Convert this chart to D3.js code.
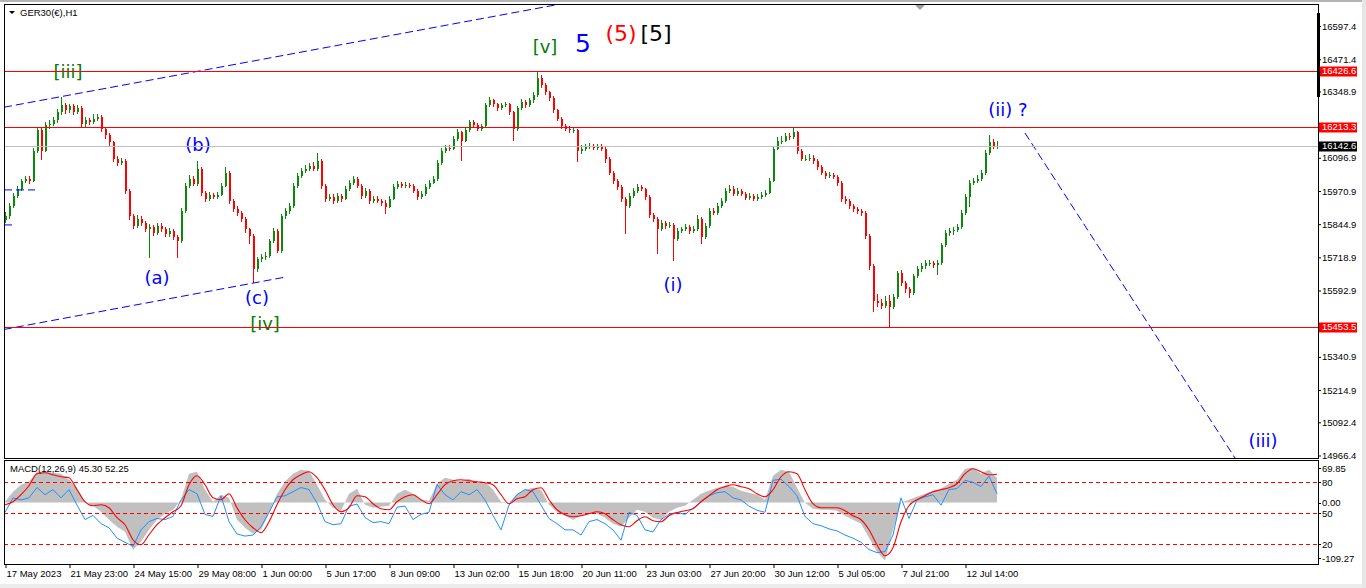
<!DOCTYPE html>
<html lang="en">
<head>
<meta charset="utf-8">
<title>GER30 H1</title>
<script src="https://cdnjs.cloudflare.com/ajax/libs/d3/7.8.5/d3.min.js"></script>
<style>
  body { margin: 0; background: #fff; overflow: hidden; }
  svg { display: block; }
  text { font-family: "Liberation Sans", Arial, sans-serif; }
</style>
</head>
<body>
<script>
// price bars, one every 4 px, open = previous close
var firstOpen = 15860;
var closes = [15876,15914,15952,15979,16010,16017,16010,16124,16201,16124,
  16220,16227,16239,16269,16296,16277,16292,16269,16285,16224,
  16239,16231,16246,16250,16208,16182,16155,16094,16078,16086,
  15972,15876,15838,15865,15849,15826,15834,15811,15838,15826,
  15807,15819,15796,15781,15895,15991,16017,15998,16056,15964,
  15941,15956,15949,15956,15991,16040,15933,15903,15888,15865,
  15826,15800,15674,15712,15720,15723,15781,15819,15742,15876,
  15895,15914,15991,16029,16048,16056,16067,16056,16086,15991,
  15941,15949,15933,15952,15941,15979,16002,16017,15991,15952,
  15972,15933,15941,15933,15926,15911,15941,15987,15998,15991,
  15994,15991,15972,15949,15960,15987,16002,16017,16078,16124,
  16136,16132,16170,16193,16162,16201,16231,16220,16208,16216,
  16296,16315,16300,16285,16296,16300,16269,16208,16285,16308,
  16296,16315,16334,16399,16372,16346,16323,16277,16246,16216,
  16208,16201,16201,16124,16132,16140,16143,16136,16140,16132,
  16094,16040,16010,15987,15941,15914,15952,15972,15987,15979,
  15949,15880,15865,15826,15849,15838,15842,15788,15819,15826,
  15834,15819,15826,15865,15796,15838,15895,15888,15914,15933,
  15972,15979,15960,15972,15960,15945,15952,15941,15949,15956,
  15964,16010,16132,16162,16162,16178,16174,16193,16124,16094,
  16094,16098,16086,16063,16040,16029,16033,16025,16002,15941,
  15933,15914,15903,15895,15888,15800,15685,15552,15544,15536,
  15552,15532,15567,15658,15620,15597,15582,15647,15674,15685,
  15697,15697,15689,15697,15765,15811,15819,15823,15834,15888,
  15949,16002,16010,16017,16040,16117,16155,16143,16143];
var highs = [15890,15925,15962,15990,16018,16026,16028,16135,16215,16210,
  16232,16240,16252,16282,16326,16305,16303,16300,16296,16292,
  16250,16248,16262,16262,16258,16215,16192,16162,16105,16098,
  16092,15980,15885,15880,15875,15858,15845,15842,15850,15848,
  15835,15830,15826,15805,15905,16002,16030,16028,16086,16062,
  15972,15966,15964,15968,16002,16063,16046,15940,15912,15895,
  15872,15832,15806,15722,15732,15740,15790,15830,15826,15885,
  15905,15926,16000,16040,16060,16068,16078,16080,16117,16092,
  15998,15960,15958,15962,15960,15990,16014,16026,16024,15998,
  15984,15980,15952,15950,15942,15935,15950,15996,16008,16006,
  16004,16003,15998,15980,15970,15996,16012,16028,16088,16134,
  16146,16144,16180,16205,16200,16212,16242,16240,16228,16226,
  16306,16326,16322,16306,16305,16310,16306,16275,16295,16320,
  16316,16325,16346,16427,16410,16380,16352,16330,16284,16252,
  16224,16216,16212,16208,16144,16150,16152,16150,16150,16148,
  16138,16100,16046,16018,15992,15948,15962,15982,15996,15994,
  15984,15955,15888,15872,15860,15858,15852,15850,15830,15836,
  15845,15842,15838,15880,15872,15848,15905,15906,15925,15944,
  15982,15992,15988,15984,15980,15968,15962,15960,15958,15966,
  15975,16020,16142,16175,16178,16190,16190,16213,16200,16130,
  16106,16110,16106,16092,16070,16046,16044,16040,16032,16008,
  15950,15940,15920,15910,15902,15894,15806,15692,15580,15560,
  15572,15575,15580,15668,15672,15628,15605,15656,15686,15698,
  15708,15708,15705,15710,15775,15822,15830,15834,15846,15898,
  15960,16012,16022,16030,16052,16128,16185,16168,16160];
var lows = [15848,15866,15905,15944,15970,16000,15998,16004,16115,16090,
  16118,16208,16218,16230,16260,16265,16268,16258,16262,16212,
  16215,16222,16225,16238,16196,16170,16142,16082,16066,16070,
  15960,15862,15825,15830,15838,15815,15716,15800,15803,15815,
  15795,15798,15784,15716,15775,15888,15982,15988,15990,15952,
  15930,15934,15940,15942,15950,15985,15922,15892,15876,15852,
  15812,15770,15620,15662,15702,15708,15715,15772,15735,15736,
  15866,15885,15905,15982,16020,16040,16048,16046,16048,15980,
  15930,15932,15922,15925,15930,15935,15972,15995,15982,15940,
  15945,15922,15926,15924,15915,15884,15905,15935,15980,15984,
  15984,15982,15962,15938,15942,15952,15980,15996,16010,16070,
  16116,16122,16125,16162,16086,16155,16195,16210,16198,16200,
  16210,16288,16290,16275,16278,16288,16258,16162,16200,16278,
  16285,16288,16306,16326,16362,16336,16312,16266,16235,16205,
  16198,16192,16190,16080,16112,16124,16130,16125,16128,16122,
  16078,16030,15998,15976,15930,15807,15905,15944,15964,15970,
  15938,15868,15854,15731,15818,15828,15830,15704,15780,15810,
  15818,15808,15810,15818,15769,15788,15830,15878,15880,15905,
  15926,15964,15950,15952,15950,15936,15938,15932,15933,15940,
  15948,15958,16004,16125,16150,16155,16165,16168,16112,16084,
  16084,16086,16075,16052,16030,16018,16020,16015,15990,15930,
  15922,15902,15892,15884,15876,15788,15672,15513,15532,15524,
  15528,15454,15522,15560,15610,15585,15563,15575,15640,15665,
  15676,15686,15678,15650,15690,15758,15800,15805,15815,15828,
  15880,15910,15992,16000,16008,16032,16108,16132,16130];

// indicator window, one sample every second bar
var macdMain = [1.5,19.9,32.9,38.4,56.9,56.9,55.0,53.2,42.1,27.3,
  1.5,-5.9,-17.0,-31.8,-44.7,-53.9,-87.2,-72.4,-50.2,-31.8,
  -20.7,-13.3,5.2,53.2,56.9,23.6,1.5,14.4,8.9,-31.8,
  -46.5,-57.6,-50.2,-20.7,16.3,38.4,53.2,60.6,58.7,32.9,
  5.2,-9.6,-15.1,16.3,25.5,-4.1,-9.6,-7.8,-5.9,16.3,
  23.6,16.3,5.2,3.3,34.7,45.8,42.1,40.3,44.0,36.6,
  38.4,23.6,1.5,-0.4,16.3,23.6,27.3,23.6,-4.1,-17.0,
  -24.4,-31.8,-24.4,-20.7,-20.7,-28.1,-39.2,-44.7,-28.1,-13.3,
  -17.0,-28.1,-31.8,-17.0,-9.6,-5.9,5.2,16.3,21.8,27.3,
  31.0,29.2,21.8,18.1,14.4,5.2,49.5,60.6,56.9,27.3,
  -0.4,-11.4,-13.3,-13.3,-15.1,-24.4,-31.8,-39.2,-65.0,-90.9,
  -107.0,-50.2,-0.4,5.2,10.7,16.3,21.8,25.5,34.7,42.1,
  62.4,64.3,53.2,60.6,45.3];
var macdSignal = [-4.1,1.5,14.4,31.0,53.2,55.0,51.3,47.6,45.8,23.6,
  1.5,-5.9,-4.1,-9.6,-28.1,-41.0,-68.7,-77.9,-59.5,-41.0,
  -28.1,-17.0,-5.9,32.9,49.5,32.9,8.9,5.2,16.3,-9.6,
  -31.8,-46.5,-55.6,-35.5,-4.1,23.6,42.1,51.3,56.9,45.8,
  23.6,-4.1,-17.0,-9.6,12.6,10.7,-2.2,-11.4,-13.3,1.5,
  10.7,14.4,5.2,-2.2,14.4,32.9,40.3,42.1,40.3,38.4,
  36.6,32.9,14.4,-2.2,7.0,10.7,23.6,27.3,5.2,-13.3,
  -22.5,-26.2,-24.4,-20.7,-17.0,-20.7,-31.8,-41.0,-44.7,-33.6,
  -26.2,-33.6,-35.5,-24.4,-18.8,-15.1,-11.4,1.5,12.6,23.6,
  29.2,32.9,29.2,25.5,16.3,10.7,23.6,47.6,56.9,53.2,
  23.6,-2.2,-9.6,-9.6,-9.6,-15.1,-24.4,-31.8,-50.2,-77.9,
  -98.2,-83.5,-35.5,-5.9,5.2,12.6,19.9,23.6,27.3,34.7,
  53.2,62.4,56.9,51.3,52.25];
var oscBlue = [51,65,63,65,75,68,73,65,73,58,
  44,48,40,36,26,22,18,34,42,45,
  44,47,63,73,69,49,47,67,42,30,
  28,29,37,51,66,67,71,75,73,60,
  42,39,40,57,59,46,41,42,40,56,
  57,44,49,51,78,68,63,71,68,73,
  63,48,34,58,68,73,71,58,45,40,
  34,34,29,42,44,40,34,24,51,48,
  34,32,44,49,51,49,55,61,67,70,
  71,65,63,57,53,51,82,83,76,67,
  47,40,38,35,33,29,26,22,15,12,
  13,29,65,45,63,66,68,58,73,74,
  82,80,76,86,69];
var oscLevels = [80, 50, 20];

var dateLabels = ["17 May 2023","21 May 23:00","24 May 15:00","29 May 08:00","1 Jun 00:00",
  "5 Jun 17:00","8 Jun 09:00","13 Jun 02:00","15 Jun 18:00","20 Jun 11:00","23 Jun 03:00",
  "27 Jun 20:00","30 Jun 12:00","5 Jul 05:00","7 Jul 21:00","12 Jul 14:00"];
var priceTicks = [16597.4,16471.4,16348.9,16096.9,15970.9,15844.9,15718.9,15592.9,
  15340.9,15214.9,15092.4,14966.4];
var levelLines = [16426.6, 16213.3, 15453.5];
var bidPrice = 16142.6;

// drawn trend lines [bar, price]
var upperChannel = [[-0.25, 16289], [140, 16684]];
var lowerChannel = [[-0.25, 15445], [69.75, 15643]];
var projection = [[255, 16191], [307.5, 14957]];
var stubA = [[-0.25, 15975], [7.5, 15975]];
var stubB = [[-0.25, 15842], [2.5, 15842]];

// wave labels [text, bar, price, colour, size]
var waves = [
  ["[iii]", 15.75, 16426, "#008000", 18],
  ["(b)", 48.25, 16146, "#0000ff", 18],
  ["(a)", 38, 15644, "#0000ff", 18],
  ["(c)", 63, 15565, "#0000ff", 18],
  ["[iv]", 65, 15466, "#008000", 18],
  ["[v]", 135, 16518, "#008000", 18],
  ["5", 144.5, 16533, "#0000ff", 25],
  ["(5)", 154, 16571, "#ff0000", 22],
  ["[5]", 162.75, 16571, "#000000", 22],
  ["(i)", 167, 15614, "#0000ff", 18],
  ["(ii) ?", 250.75, 16279, "#0000ff", 18],
  ["(iii)", 314.5, 15022, "#0000ff", 18]
];

var W = 1366, H = 588;
var L = 4, R = 1318, T = 4, B = 458, ST = 460, SB = 564;
var upCol = "#0a8a0a", dnCol = "#ff0000";

var svg = d3.select("body").append("svg").attr("width", W).attr("height", H);

var x = d3.scaleLinear().domain([0, 1]).range([5, 9]);
var y = d3.scaleLinear().domain([14966.4, 16597.4]).range([455.5, 26]);
var ym = d3.scaleLinear().domain([-109.27, 69.85]).range([561.7, 464.7]);
var ys = d3.scaleLinear().domain([0, 100]).range([565, 461.7]);

// window chrome
svg.append("rect").attr("x", 0).attr("y", 0).attr("width", W).attr("height", 2).attr("fill", "#b4b4b4");
svg.append("rect").attr("x", 0).attr("y", 584).attr("width", W).attr("height", 4).attr("fill", "#ececec");
svg.append("rect").attr("x", 1362).attr("y", 0).attr("width", 4).attr("height", H).attr("fill", "#e6e6e6");

var defs = svg.append("defs");
defs.append("clipPath").attr("id", "cm").append("rect")
  .attr("x", L + 1).attr("y", T + 1).attr("width", R - L - 1).attr("height", B - T - 1);
defs.append("clipPath").attr("id", "cs").append("rect")
  .attr("x", L + 1).attr("y", ST + 1).attr("width", R - L - 1).attr("height", SB - ST - 1);

// ---------- main panel ----------
var main = svg.append("g").attr("clip-path", "url(#cm)");

// horizontal price levels, drawn straight on the svg
svg.append("line").attr("x1", L + 1).attr("x2", R)
  .attr("y1", Math.round(y(bidPrice)) + 0.5).attr("y2", Math.round(y(bidPrice)) + 0.5)
  .attr("stroke", "#c0c0c0");
svg.selectAll("line.lvl").data(levelLines).join("line").attr("class", "lvl")
  .attr("x1", L + 1).attr("x2", R)
  .attr("y1", function (d) { return Math.round(y(d)) + 0.5; })
  .attr("y2", function (d) { return Math.round(y(d)) + 0.5; })
  .attr("stroke", "rgb(255,0,0)").attr("stroke-width", 1.2);

var bars = closes.map(function (c, i) {
  return { i: i, o: i ? closes[i - 1] : firstOpen, c: c, h: highs[i], l: lows[i] };
});
var cg = main.append("g").attr("shape-rendering", "crispEdges");
cg.selectAll("line").data(bars).join("line")
  .attr("x1", function (d) { return x(d.i) + 0.5; })
  .attr("x2", function (d) { return x(d.i) + 0.5; })
  .attr("y1", function (d) { return y(d.h); })
  .attr("y2", function (d) { return y(d.l); })
  .attr("stroke", function (d) { return d.c >= d.o ? upCol : dnCol; });
cg.selectAll("rect").data(bars).join("rect")
  .attr("x", function (d) { return x(d.i); })
  .attr("width", 2)
  .attr("y", function (d) { return y(Math.max(d.o, d.c)); })
  .attr("height", function (d) { return Math.max(1, Math.abs(y(d.o) - y(d.c))); })
  .attr("fill", function (d) { return d.c >= d.o ? upCol : dnCol; });

var tl = d3.line().x(function (d) { return x(d[0]); }).y(function (d) { return y(d[1]); });
[upperChannel, lowerChannel, projection, stubA, stubB].forEach(function (seg) {
  main.append("path").attr("d", tl(seg)).attr("fill", "none")
    .attr("stroke", "#0000ff").attr("stroke-width", 1).attr("stroke-dasharray", "8,4");
});

main.selectAll("text.wave").data(waves).join("text").attr("class", "wave")
  .attr("x", function (d) { return x(d[1]); })
  .attr("y", function (d) { return y(d[2]); })
  .attr("dy", "0.36em")
  .attr("text-anchor", "middle")
  .style("font-family", "'DejaVu Sans', sans-serif")
  .style("font-size", function (d) { return d[4] + "px"; })
  .attr("fill", function (d) { return d[3]; })
  .text(function (d) { return d[0]; });

// chart shift marker
svg.append("path").attr("d", "M915,5 L925,5 L920,10 Z").attr("fill", "#a0a0a0");
// header
svg.append("path").attr("d", "M9,11 L15,11 L12,14 Z").attr("fill", "#000");
svg.append("text").attr("x", 20).attr("y", 16).style("font-size", "9.5px").text("GER30(€),H1");

// price axis
var pa = svg.append("g").attr("transform", "translate(" + R + ",0)")
  .call(d3.axisRight(y).tickValues(priceTicks).tickSize(3).tickPadding(1).tickFormat(d3.format(".1f")));
pa.select(".domain").remove();
pa.selectAll("text").style("font-size", "9.5px").style("font-family", "'Liberation Sans', Arial, sans-serif").attr("fill", "#000");
pa.selectAll("line").attr("stroke", "#000");

function priceTag(v, col) {
  var yy = Math.round(y(v));
  svg.append("rect").attr("x", R + 1).attr("y", yy - 4.5).attr("width", 38).attr("height", 10).attr("fill", col);
  svg.append("text").attr("x", R + 4).attr("y", yy).attr("dy", "0.35em")
    .style("font-size", "9.5px").attr("fill", "#fff").text(d3.format(".1f")(v));
}
levelLines.forEach(function (v) { priceTag(v, "#ff0000"); });
priceTag(bidPrice, "#000");
svg.append("rect").attr("x", R - 1).attr("y", 13).attr("width", 3).attr("height", 84).attr("fill", "#000");

// ---------- indicator panel ----------
var sub = svg.append("g").attr("clip-path", "url(#cs)");
var idx = function (d, k) { return x(k * 2); };

sub.append("path").datum(macdMain)
  .attr("d", d3.area().x(idx).y0(ym(0)).y1(function (d) { return ym(d); }))
  .attr("fill", "#c0c0c0");

sub.selectAll("line.olv").data(oscLevels).join("line").attr("class", "olv")
  .attr("x1", L).attr("x2", R)
  .attr("y1", function (d) { return Math.round(ys(d)) + 0.5; })
  .attr("y2", function (d) { return Math.round(ys(d)) + 0.5; })
  .attr("stroke", "#ff0000").attr("stroke-dasharray", "4,3");

sub.append("path").datum(oscBlue)
  .attr("d", d3.line().x(idx).y(function (d) { return ys(d); }))
  .attr("fill", "none").attr("stroke", "#1e90ff").attr("stroke-width", 1);

sub.append("path").datum(macdSignal)
  .attr("d", d3.line().x(idx).y(function (d) { return ym(d); }).curve(d3.curveMonotoneX))
  .attr("fill", "none").attr("stroke", "#ff0000").attr("stroke-width", 1.1);

svg.append("text").attr("x", 10).attr("y", 472).style("font-size", "9.5px")
  .text("MACD(12,26,9) " + d3.format(".2f")(macdMain[macdMain.length - 1]) + " " + d3.format(".2f")(macdSignal[macdSignal.length - 1]));

// indicator scale labels
var sideLabels = [
  [ym(69.85) + 3.5, "69.85"], [ys(80), "80"], [ym(0), "0.00"],
  [ys(50), "50"], [ys(20), "20"], [ym(-109.27) - 3.5, "-109.27"]
];
svg.selectAll("text.sl").data(sideLabels).join("text").attr("class", "sl")
  .attr("x", R + 4).attr("y", function (d) { return d[0]; }).attr("dy", "0.35em")
  .style("font-size", "9.5px").text(function (d) { return d[1]; });
svg.selectAll("line.st").data(sideLabels).join("line").attr("class", "st")
  .attr("x1", R).attr("x2", R + 3)
  .attr("y1", function (d) { return Math.round(d[0]) + 0.5; })
  .attr("y2", function (d) { return Math.round(d[0]) + 0.5; })
  .attr("stroke", "#000");

// time axis
var tickIdx = dateLabels.map(function (d, k) { return k * 16; });
var ta = svg.append("g").attr("transform", "translate(0," + SB + ")")
  .call(d3.axisBottom(x).tickValues(tickIdx).tickSize(4)
    .tickFormat(function (d, k) { return dateLabels[k]; }));
ta.select(".domain").remove();
ta.selectAll("text").attr("text-anchor", "start").attr("x", 1).attr("y", 6)
  .style("font-size", "9.5px").style("font-family", "'Liberation Sans', Arial, sans-serif").attr("fill", "#000");
ta.selectAll("line").attr("stroke", "#000").attr("transform", "translate(0.5,0)");

// frames
svg.append("rect").attr("x", L + 0.5).attr("y", T + 0.5).attr("width", R - L).attr("height", B - T)
  .attr("fill", "none").attr("stroke", "#000");
svg.append("rect").attr("x", L + 0.5).attr("y", ST + 0.5).attr("width", R - L).attr("height", SB - ST)
  .attr("fill", "none").attr("stroke", "#000");
</script>
</body>
</html>
